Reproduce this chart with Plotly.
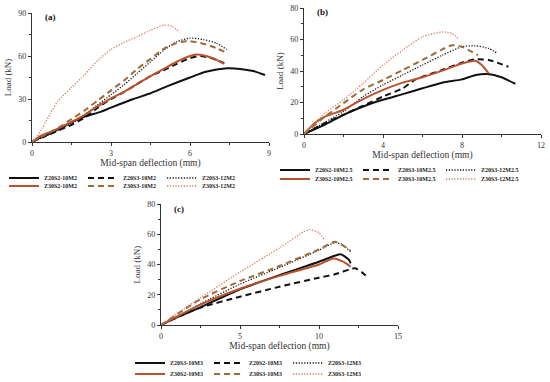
import plotly.graph_objects as go

# ---------------- Panel (a) data ----------------
a_names = ["Z20S2-10M2", "Z20S3-10M2", "Z20S3-12M2", "Z30S2-10M2", "Z30S3-10M2", "Z30S3-12M2"]
a_x_z20s2_10 = [0, 0.3, 0.7, 1.0, 1.5, 2.0, 2.6, 3.0, 3.85, 4.5, 5.1, 6.0, 6.6, 7.4, 7.9, 8.4, 8.85]
a_y_z20s2_10 = [0, 3, 6, 9, 13.7, 17.7, 21, 24, 30, 34, 38.6, 45, 49, 51.4, 51, 49.5, 46.7]
a_x_z20s3_10 = [0, 0.5, 1.0, 1.5, 2.0, 2.5, 3.0, 3.5, 4.0, 4.5, 5.0, 5.5, 6.0, 6.4, 6.8, 7.3]
a_y_z20s3_10 = [0, 4, 8, 12, 17, 24, 30, 35, 40.5, 46, 50, 54.5, 58.5, 60, 58.5, 55]
a_x_z20s3_12 = [0, 0.5, 1.0, 1.5, 2.0, 2.5, 3.0, 3.5, 4.0, 4.5, 5.0, 5.5, 6.0, 6.5, 7.0, 7.4]
a_y_z20s3_12 = [0, 4, 8, 13, 19, 26, 33, 40, 48, 56, 64, 70, 72.5, 71.5, 69, 64.5]
a_x_z30s2_10 = [0, 0.3, 0.7, 1.0, 1.5, 2.0, 2.5, 3.0, 3.5, 4.0, 4.5, 5.0, 5.5, 6.0, 6.3, 6.7, 7.0, 7.3]
a_y_z30s2_10 = [0, 4, 7, 9.5, 14, 19, 25, 30.5, 35, 40.5, 46, 51, 56, 60, 61, 59.5, 57.5, 54.5]
a_x_z30s3_10 = [0, 0.5, 1.0, 1.5, 2.0, 2.5, 3.0, 3.5, 4.0, 4.5, 5.0, 5.5, 5.9, 6.3, 6.8, 7.3]
a_y_z30s3_10 = [0, 5, 10, 16, 22, 29, 36, 43, 51, 58, 65, 69, 70.5, 69.5, 67, 63]
a_x_z30s3_12 = [0, 0.2, 0.4, 0.7, 1.0, 1.5, 2.0, 2.5, 3.0, 3.5, 4.0, 4.5, 5.0, 5.3, 5.6]
a_y_z30s3_12 = [0, 4, 10, 20, 29, 38, 47, 57, 64.5, 69.5, 73.5, 78, 81.5, 81, 76.5]

# ---------------- Panel (b) data ----------------
b_names = ["Z20S2-10M2.5", "Z20S3-10M2.5", "Z20S3-12M2.5", "Z30S2-10M2.5", "Z30S3-10M2.5", "Z30S3-12M2.5"]
b_x_z20s2_10 = [0, 1.06, 2, 3, 4, 5, 6, 7, 8, 8.7, 9.3, 10, 10.7]
b_y_z20s2_10 = [0, 5.9, 12.2, 17.5, 21.7, 25.3, 29, 32.6, 34.7, 37.5, 38.1, 36, 31.8]
b_x_z20s3_10 = [0, 1, 2, 3, 4, 5, 5.6, 6, 7, 8, 8.67, 9.35, 10.35]
b_y_z20s3_10 = [0, 6.5, 12.2, 18, 23.8, 29, 34.3, 36.4, 40.6, 45.3, 47.4, 47, 42.7]
b_x_z20s3_12 = [0, 1, 2, 3, 4, 5, 6, 7, 8, 8.67, 9.35, 9.8]
b_y_z20s3_12 = [0, 7, 14.3, 23.8, 31.2, 37.5, 43.8, 50, 55.4, 56, 54.3, 51.2]
b_x_z30s2_10 = [0, 0.55, 1.06, 2, 2.75, 4, 5, 6, 7, 8, 8.67, 9, 9.35]
b_y_z30s2_10 = [0, 7, 11, 15.4, 20.6, 28, 32.6, 36, 40.2, 44.8, 46.5, 43.8, 38.5]
b_x_z30s3_10 = [0, 1.06, 2, 3, 4, 5, 6, 7, 7.5, 8, 8.8]
b_y_z30s3_10 = [0, 11, 19.6, 28.4, 34.3, 40.6, 47, 53.7, 56.4, 55.4, 50]
b_x_z30s3_12 = [0, 1.06, 2, 3, 4, 5, 6, 7, 7.5, 7.8]
b_y_z30s3_12 = [0, 13.3, 21.7, 32.2, 43.8, 53.3, 61.7, 64.8, 63.8, 60.6]

# ---------------- Panel (c) data ----------------
c_names = ["Z20S3-10M3", "Z20S2-10M3", "Z20S3-12M3", "Z30S2-10M3", "Z30S3-10M3", "Z30S3-12M3"]
c_x_z20s3_10 = [0, 1, 2.5, 5, 7.5, 10, 11, 11.4, 11.9, 12]
c_y_z20s3_10 = [0, 5, 11.7, 23.6, 33, 41.8, 45.8, 46.7, 43, 40.7]
c_x_z20s2_10 = [0, 1, 2.5, 5, 7.5, 10, 11, 12, 12.3, 12.7, 13.1]
c_y_z20s2_10 = [0, 5, 11.5, 18.7, 25.3, 31.3, 33.5, 37, 37.5, 35, 31.5]
c_x_z20s3_12 = [0, 1, 2.5, 5, 7.5, 10, 11, 11.5, 12]
c_y_z20s3_12 = [0, 5, 14, 27, 38, 49.5, 54.5, 53, 48.5]
c_x_z30s2_10 = [0, 1, 2.5, 5, 7.5, 10, 10.9, 11.5, 12]
c_y_z30s2_10 = [0, 5.5, 13.5, 24, 32.5, 40, 44, 42, 38.5]
c_x_z30s3_10 = [0, 1, 2.5, 5, 7.5, 10, 11, 11.6, 12]
c_y_z30s3_10 = [0, 7, 17, 29, 39, 50, 55, 52, 49]
c_x_z30s3_12 = [0, 1, 2.5, 5, 7.5, 9, 9.4, 10, 10.3]
c_y_z30s3_12 = [0, 7.5, 18, 35, 51, 61.5, 63, 61, 57]

BLACK = "#111111"
RED = "#B9532F"
BROWN = "#9E6B3A"
SALMON = "#D9765F"
FONT = "Liberation Serif"

styles = [
    dict(color=BLACK, width=2, dash="solid"),
    dict(color=BLACK, width=2, dash="6px,4px"),
    dict(color=BLACK, width=1.3, dash="1.2px,1.6px"),
    dict(color=RED, width=2, dash="solid"),
    dict(color=BROWN, width=2, dash="6px,4px"),
    dict(color=SALMON, width=1.3, dash="1.2px,1.6px"),
]

fig = go.Figure()

panels = [
    ("x", "y", a_names, [(a_x_z20s2_10, a_y_z20s2_10), (a_x_z20s3_10, a_y_z20s3_10), (a_x_z20s3_12, a_y_z20s3_12),
                         (a_x_z30s2_10, a_y_z30s2_10), (a_x_z30s3_10, a_y_z30s3_10), (a_x_z30s3_12, a_y_z30s3_12)],
     ["legend", "legend2"]),
    ("x2", "y2", b_names, [(b_x_z20s2_10, b_y_z20s2_10), (b_x_z20s3_10, b_y_z20s3_10), (b_x_z20s3_12, b_y_z20s3_12),
                           (b_x_z30s2_10, b_y_z30s2_10), (b_x_z30s3_10, b_y_z30s3_10), (b_x_z30s3_12, b_y_z30s3_12)],
     ["legend3", "legend4"]),
    ("x3", "y3", c_names, [(c_x_z20s3_10, c_y_z20s3_10), (c_x_z20s2_10, c_y_z20s2_10), (c_x_z20s3_12, c_y_z20s3_12),
                           (c_x_z30s2_10, c_y_z30s2_10), (c_x_z30s3_10, c_y_z30s3_10), (c_x_z30s3_12, c_y_z30s3_12)],
     ["legend5", "legend6"]),
]

for xa, ya, names, series, legs in panels:
    for i, (name, (xs, ys)) in enumerate(zip(names, series)):
        fig.add_trace(go.Scatter(
            x=xs, y=ys, name=name, mode="lines", line=dict(**styles[i], shape="spline", smoothing=0.6),
            xaxis=xa, yaxis=ya, legend=legs[0] if i < 3 else legs[1],
        ))

H = 382.0
W = 550.0

def ax(domain, rng, dtick, mdtick, title, anchor, tsize, standoff):
    return dict(
        domain=domain, range=rng, dtick=dtick, tick0=0, anchor=anchor,
        showgrid=False, zeroline=False, showline=True, linecolor="#333333", linewidth=1.3,
        ticks="outside", ticklen=3, tickcolor="#333333", tickwidth=1,
        minor=dict(dtick=mdtick, ticks="outside", ticklen=2, tickcolor="#333333"),
        tickfont=dict(family=FONT, size=8, color="#333333"),
        title=dict(text=title, font=dict(family=FONT, size=tsize, color="#333333"), standoff=standoff),
        automargin=False, fixedrange=True,
    )

layout = dict(
    width=550, height=382, margin=dict(l=0, r=0, t=0, b=0, autoexpand=False),
    paper_bgcolor="white", plot_bgcolor="white",
    xaxis=ax([32 / W, 269 / W], [0, 9], 3, 1.5, "Mid-span deflection (mm)", "y", 9.5, 2),
    yaxis=ax([1 - 142 / H, 1 - 13 / H], [0, 90], 30, 15, "Load (kN)", "x", 9, 5),
    xaxis2=ax([304 / W, 541 / W], [0, 12], 4, 2, "Mid-span deflection (mm)", "y2", 9.5, 2),
    yaxis2=ax([1 - 134 / H, 1 - 8 / H], [0, 80], 20, 10, "Load (kN)", "x2", 9, 5),
    xaxis3=ax([161 / W, 398 / W], [0, 15], 5, 2.5, "Mid-span deflection (mm)", "y3", 9.5, 2),
    yaxis3=ax([1 - 325 / H, 1 - 204 / H], [0, 80], 20, 10, "Load (kN)", "x3", 9, 5),
)

def leg(x, y, ew):
    return dict(orientation="h", x=x / W, y=1 - y / H, xanchor="left", yanchor="middle",
                bgcolor="rgba(0,0,0,0)", font=dict(family=FONT, size=6, color="#222222", weight="bold"),
                entrywidth=ew, itemwidth=30, tracegroupgap=0)

layout["legend"] = leg(4, 178, 34)
layout["legend2"] = leg(4, 186, 34)
layout["legend3"] = leg(275, 170, 38)
layout["legend4"] = leg(275, 179, 38)
layout["legend5"] = leg(130, 363, 34)
layout["legend6"] = leg(130, 374, 34)

fig.update_layout(**layout)

for xr, yr, label in [("x", "y", "(a)"), ("x2", "y2", "(b)"), ("x3", "y3", "(c)")]:
    fig.add_annotation(text="<b>" + label + "</b>", xref=xr + " domain", yref=yr + " domain",
                       x=0.045, y=1.02, xanchor="left", yanchor="top", showarrow=False,
                       font=dict(family=FONT, size=9, color="#111111"))

fig.write_html("out.html", config={"displayModeBar": False},
               post_script="document.body.style.margin='0';")
